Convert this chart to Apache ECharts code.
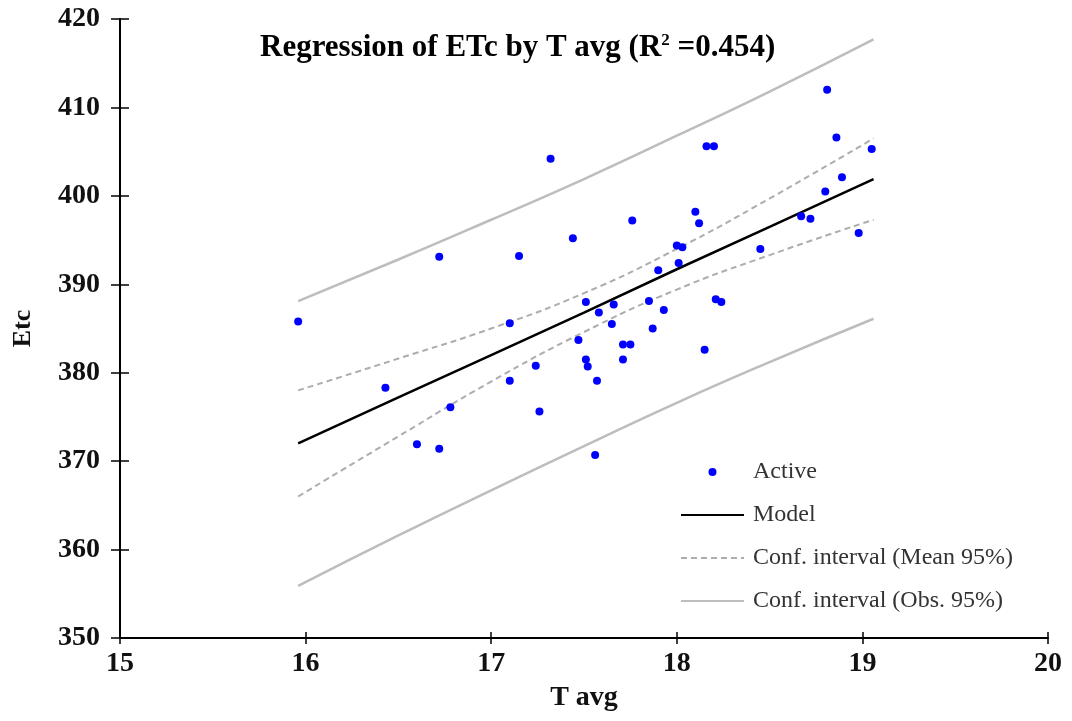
<!DOCTYPE html>
<html>
<head>
<meta charset="utf-8">
<script src="https://cdn.jsdelivr.net/npm/echarts@6/dist/echarts.min.js"></script>
<style>
  html, body { margin: 0; padding: 0; background: #fff; }
  #chart { width: 1072px; height: 721px; }
</style>
</head>
<body>
<div id="chart"></div>
<script>
// observed points (T avg, ETc)
const activePts = [
  [15.96, 385.8], [16.43, 378.3], [16.60, 371.9], [16.72, 371.4], [16.72, 393.1],
  [16.78, 376.1], [17.10, 379.1], [17.10, 385.6], [17.15, 393.2], [17.24, 380.8],
  [17.26, 375.6], [17.32, 404.2], [17.44, 395.2], [17.47, 383.7], [17.51, 388.0],
  [17.51, 381.5], [17.52, 380.7], [17.57, 379.1], [17.56, 370.7], [17.58, 386.8],
  [17.65, 385.5], [17.66, 387.7], [17.71, 383.2], [17.71, 381.5], [17.75, 383.2],
  [17.76, 397.2], [17.85, 388.1], [17.87, 385.0], [17.90, 391.6], [17.93, 387.1],
  [18.00, 394.4], [18.01, 392.4], [18.03, 394.2], [18.10, 398.2], [18.12, 396.9],
  [18.15, 382.6], [18.16, 405.6], [18.20, 405.6], [18.21, 388.3], [18.24, 388.0],
  [18.45, 394.0], [18.67, 397.7], [18.72, 397.4], [18.80, 400.5], [18.81, 412.0],
  [18.86, 406.6], [18.89, 402.1], [18.98, 395.8], [19.05, 405.3]
];

// curves read at these x positions
const curveX    = [15.96, 16.5, 17.0, 17.5, 18.0, 18.5, 19.06];
const modelY    = [372.0, 377.2, 382.0, 386.8, 391.7, 396.5, 401.9];
const meanUpY   = [378.0, 381.6, 385.0, 389.0, 394.0, 399.7, 406.5];
const meanLoY   = [366.0, 372.8, 379.0, 384.6, 389.4, 393.3, 397.3];
const obsUpY    = [388.1, 392.8, 397.3, 401.9, 406.8, 411.8, 417.7];
const obsLoY    = [355.9, 361.6, 366.7, 371.7, 376.6, 381.2, 386.1];

const xTicks = [15, 20, 1];
const yTicks = [350, 420, 10];

function pairs(ys) {
  return curveX.map((x, i) => [x, ys[i]]);
}

const serif = '"Liberation Serif", "DejaVu Serif", serif';
const chart = echarts.init(document.getElementById('chart'));

const axisLabelY = { color: '#111', fontFamily: serif, fontWeight: 'bold', fontSize: 28, margin: 20 };
const axisLabelX = { color: '#111', fontFamily: serif, fontWeight: 'bold', fontSize: 28, margin: 12 };

// hide the marker dot that line series put in the legend icon
const noDot = { opacity: 0 };

const option = {
  backgroundColor: '#fff',
  animation: false,
  title: {
    left: 255,
    top: 27,
    text: '{a|Regression of ETc by T avg (R}{s|2}{a| =0.454)}',
    textStyle: {
      rich: {
        a: { fontFamily: serif, fontWeight: 'bold', fontSize: 31, color: '#000' },
        s: { fontFamily: serif, fontWeight: 'bold', fontSize: 17, color: '#000', verticalAlign: 'top', padding: [0, 0, 12, 0] }
      }
    }
  },
  grid: { left: 120, right: 24, top: 19, bottom: 83 },
  legend: {
    orient: 'vertical',
    left: 675,
    top: 455,
    itemWidth: 63,
    itemHeight: 8,
    itemGap: 19,
    textStyle: { fontFamily: serif, fontSize: 24, color: '#333', lineHeight: 24, padding: [0, 0, 0, 4] },
    data: [
      'Active',
      { name: 'Model', itemStyle: noDot },
      { name: 'Conf. interval (Mean 95%)', itemStyle: noDot },
      { name: 'Conf. interval (Obs. 95%)', itemStyle: noDot }
    ]
  },
  xAxis: [{
    type: 'value', min: xTicks[0], max: xTicks[1], interval: xTicks[2],
    name: 'T avg', nameLocation: 'middle', nameGap: 46,
    nameTextStyle: { fontFamily: serif, fontWeight: 'bold', fontSize: 28, color: '#111' },
    axisLine: { lineStyle: { color: '#000', width: 2 } },
    axisTick: { length: 6, lineStyle: { color: '#000', width: 1.5 } },
    axisLabel: axisLabelX,
    splitLine: { show: false }
  }, {
    type: 'value', min: xTicks[0], max: xTicks[1], interval: xTicks[2], position: 'bottom',
    axisLine: { show: false },
    axisTick: { inside: true, length: 6, lineStyle: { color: '#000', width: 1.5 } },
    axisLabel: { show: false },
    splitLine: { show: false }
  }],
  yAxis: [{
    type: 'value', min: yTicks[0], max: yTicks[1], interval: yTicks[2],
    name: 'Etc', nameLocation: 'middle', nameGap: 84, nameRotate: 90,
    nameTextStyle: { fontFamily: serif, fontWeight: 'bold', fontSize: 26, color: '#111' },
    axisLine: { show: true, lineStyle: { color: '#000', width: 2 } },
    axisTick: { show: true, length: 9, lineStyle: { color: '#000', width: 1.5 } },
    axisLabel: axisLabelY,
    splitLine: { show: false }
  }, {
    type: 'value', min: yTicks[0], max: yTicks[1], interval: yTicks[2], position: 'left',
    axisLine: { show: false },
    axisTick: { show: true, inside: true, length: 9, lineStyle: { color: '#000', width: 1.5 } },
    axisLabel: { show: false },
    splitLine: { show: false }
  }],
  series: [
    {
      name: 'Conf. interval (Obs. 95%)', type: 'line', smooth: true, symbol: 'none',
      lineStyle: { color: '#bdbdbd', width: 2.5 }, itemStyle: { color: '#bdbdbd' },
      data: pairs(obsUpY), z: 1
    },
    {
      name: 'Conf. interval (Obs. 95%)', type: 'line', smooth: true, symbol: 'none',
      lineStyle: { color: '#bdbdbd', width: 2.5 }, itemStyle: { color: '#bdbdbd' },
      data: pairs(obsLoY), z: 1
    },
    {
      name: 'Conf. interval (Mean 95%)', type: 'line', smooth: true, symbol: 'none',
      lineStyle: { color: '#adadad', width: 2, type: [6, 4] }, itemStyle: { color: '#adadad' },
      data: pairs(meanUpY), z: 2
    },
    {
      name: 'Conf. interval (Mean 95%)', type: 'line', smooth: true, symbol: 'none',
      lineStyle: { color: '#adadad', width: 2, type: [6, 4] }, itemStyle: { color: '#adadad' },
      data: pairs(meanLoY), z: 2
    },
    {
      name: 'Model', type: 'line', symbol: 'none',
      lineStyle: { color: '#000', width: 2.5 }, itemStyle: { color: '#000' },
      data: pairs(modelY), z: 3
    },
    {
      name: 'Active', type: 'scatter', symbolSize: 8,
      itemStyle: { color: '#0000ff', opacity: 1 },
      data: activePts, z: 4
    }
  ]
};

chart.setOption(option);
</script>
</body>
</html>
